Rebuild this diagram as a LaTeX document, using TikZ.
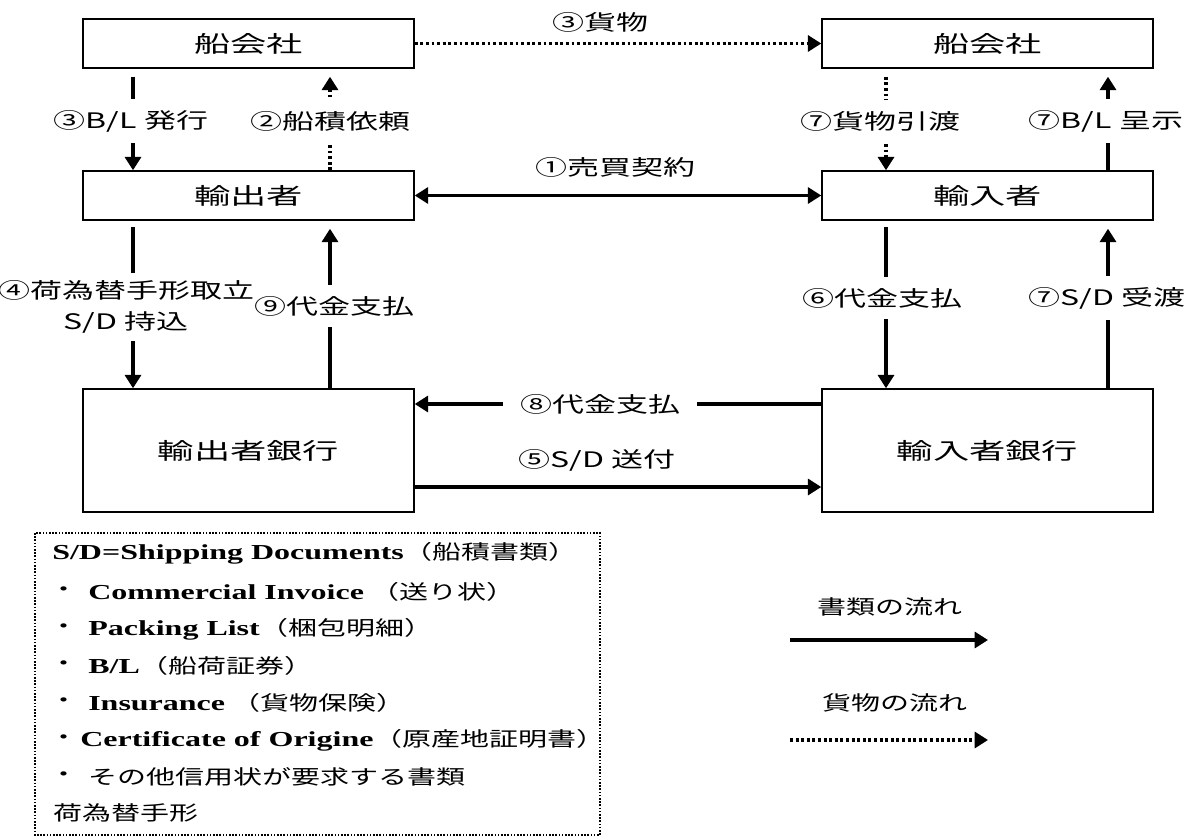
\documentclass[tikz,border=0pt]{standalone}
\usepackage{fontspec}
\newfontfamily\jpbox[FakeStretch=1.6]{Noto Sans CJK JP}
\newfontfamily\jplab[FakeStretch=1.5]{Noto Sans CJK JP}
\newfontfamily\jpleg[FakeStretch=1.45]{Noto Sans CJK JP}
\newfontfamily\enleg[FakeStretch=1.5]{Liberation Serif}
\usetikzlibrary{arrows.meta,calc}
\tikzset{
  box/.style={draw, line width=1.1pt, inner sep=0pt, minimum width=248.25pt, font=\jpbox\fontsize{17}{20}\selectfont},
  smallbox/.style={box, minimum height=36.75pt},
  bankbox/.style={box, minimum height=92.25pt},
  lab/.style={fill=white, inner xsep=1pt, inner ysep=4pt, font=\jplab\fontsize{16}{19}\selectfont, align=center},
  tip/.style={Triangle[length=10pt,width=12pt]},
  doc/.style={line width=2.3pt, -{Triangle[length=10pt,width=12pt]}},
  docboth/.style={line width=2.3pt, {Triangle[length=10pt,width=12pt]}-{Triangle[length=10pt,width=12pt]}},
  cargo/.style={line width=2.3pt, dash pattern=on 2.2pt off 2pt, -{Triangle[length=10pt,width=12pt]}},
  legtext/.style={anchor=west, inner sep=0pt, font=\jpleg\fontsize{15}{18}\selectfont},
  legbullet/.style={inner sep=0pt, font=\jpleg\fontsize{15}{18}\selectfont},
}
\newcommand{\en}[1]{{\enleg\bfseries\fontsize{16}{18}\selectfont #1}}
\begin{document}
\begin{tikzpicture}[x=0.75pt,y=-0.75pt]
\useasboundingbox (0,0) rectangle (1185,838);
% boxes
\node[smallbox] (sl) at (248.5,43.5) {船会社};
\node[smallbox] (sr) at (987.5,43.5) {船会社};
\node[smallbox] (ex) at (248.5,195.5) {輸出者};
\node[smallbox] (im) at (987.5,195.5) {輸入者};
\node[bankbox] (bl) at (248.5,450.5) {輸出者銀行};
\node[bankbox] (br) at (987.5,450.5) {輸入者銀行};
% column coordinates
\coordinate (cA) at (133,0);
\coordinate (cB) at (330,0);
\coordinate (cC) at (886,0);
\coordinate (cD) at (1108,0);
\coordinate (rA) at (0,404);
\coordinate (rB) at (0,487);
% top horizontal
\draw[cargo] (sl.east) -- (sr.west);
\node[lab] (l3c) at (600,22) {③貨物};
\draw[docboth] (ex.east) -- (im.west);
\node[lab] (l1) at (615,167) {①売買契約};
% upper left verticals
\draw[doc, shorten <=6pt] (sl.south -| cA) -- (ex.north -| cA);
\node[lab, inner ysep=8pt] (l3b) at (131,121) {③B/L 発行};
\draw[cargo, shorten >=6pt] (ex.north -| cB) -- (sl.south -| cB);
\node[lab, inner ysep=8pt] (l2) at (330,121) {②船積依頼};
% upper right verticals
\draw[cargo, shorten <=6pt] (sr.south -| cC) -- (im.north -| cC);
\node[lab, inner ysep=8pt] (l7a) at (880,121) {⑦貨物引渡};
\draw[doc, shorten >=6pt] (im.north -| cD) -- (sr.south -| cD);
\node[lab, inner ysep=8pt] (l7b) at (1106,121) {⑦B/L 呈示};
% lower left verticals
\draw[doc, shorten <=5pt] (ex.south -| cA) -- (bl.north -| cA);
\node[lab, inner ysep=6pt] (l4) at (126,307) {④荷為替手形取立\\[4pt]S/D 持込};
\draw[doc, shorten >=6pt] (bl.north -| cB) -- (ex.south -| cB);
\node[lab, inner ysep=8pt] (l9) at (334,306) {⑨代金支払};
% lower right verticals
\draw[doc, shorten <=5pt] (im.south -| cC) -- (br.north -| cC);
\node[lab, inner ysep=8pt] (l6) at (882,298) {⑥代金支払};
\draw[doc, shorten >=6pt] (br.north -| cD) -- (im.south -| cD);
\node[lab, inner ysep=8pt] (l7c) at (1107,298) {⑦S/D 受渡};
% bank horizontals
\draw[doc] (br.west |- rA) -- (bl.east |- rA);
\node[lab, inner sep=0pt, minimum width=146pt, minimum height=20pt] (l8) at (600,404) {⑧代金支払};
\draw[doc] (bl.east |- rB) -- (br.west |- rB);
\node[lab] (l5) at (597,460) {⑤S/D 送付};
% legend box
\draw[line width=1.2pt, dash pattern=on 1.2pt off 1.2pt] (35,533) rectangle (600,835);
\node[legtext] (t1) at (52,553) {\en{S/D=Shipping Documents}（船積書類）};
\node[legbullet] (b2) at (64,592) {・};
\node[legtext] (t2) at (88,592) {\en{Commercial Invoice} （送り状）};
\node[legbullet] (b3) at (64,629) {・};
\node[legtext] (t3) at (88,629) {\en{Packing List}（梱包明細）};
\node[legbullet] (b4) at (64,666) {・};
\node[legtext] (t4) at (88,666) {\en{B/L}（船荷証券）};
\node[legbullet] (b5) at (64,703) {・};
\node[legtext] (t5) at (88,703) {\en{Insurance} （貨物保険）};
\node[legbullet] (b6) at (64,740) {・};
\node[legtext] (t6) at (80,740) {\en{Certificate of Origine}（原産地証明書）};
\node[legbullet] (b7) at (64,777) {・};
\node[legtext] (t7) at (88,777) {その他信用状が要求する書類};
\node[legtext] (t8) at (53,813) {荷為替手形};
% flow legend
\node[legbullet] (fd) at (890,607) {書類の流れ};
\coordinate (fd1) at (790,640);
\coordinate (fd2) at (988,640);
\draw[doc] (fd1) -- (fd2);
\node[legbullet] (fc) at (895,703) {貨物の流れ};
\coordinate (fc1) at (790,740);
\coordinate (fc2) at (988,740);
\draw[cargo] (fc1) -- (fc2);
\end{tikzpicture}
\end{document}
